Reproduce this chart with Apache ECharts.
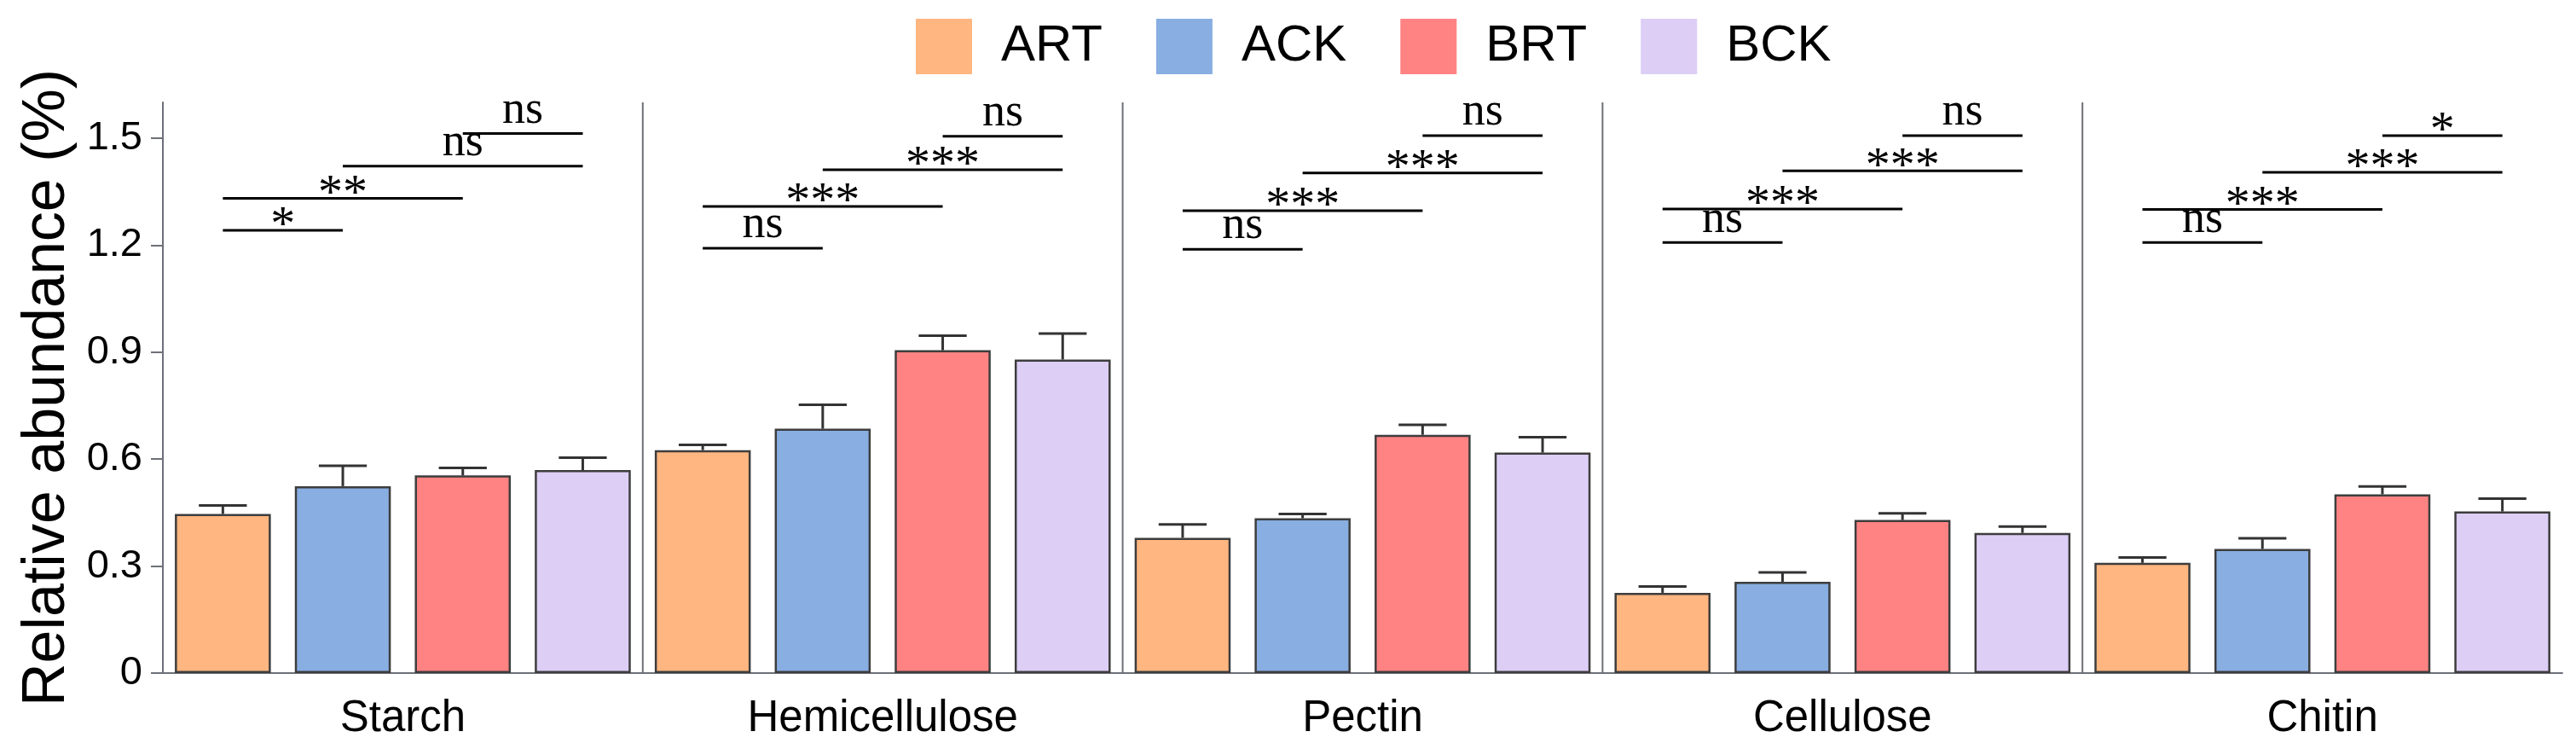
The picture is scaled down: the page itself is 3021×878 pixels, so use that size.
<!doctype html>
<html>
    <head>
        <meta charset="utf-8">
        <title>Relative abundance - bars</title>
        <style>
            html, body { margin: 0; padding: 0; background: #fff; }
            #main { width: 3021px; height: 878px; }
        </style>
    </head>
    <body>
        <div id="main"></div>
        <script src="https://cdn.jsdelivr.net/npm/echarts@6/dist/echarts.min.js"></script>
        <script>
            var categories = ['Starch', 'Hemicellulose', 'Pectin', 'Cellulose', 'Chitin'];
            var groups = ['ART', 'ACK', 'BRT', 'BCK'];
            var colors = ['#FFB680', '#88AEE2', '#FF8383', '#DDCEF6'];

            // bar means, one array per group (order follows categories)
            var ART = [0.446, 0.625, 0.379, 0.225, 0.309];
            var ACK = [0.524, 0.685, 0.434, 0.256, 0.348];
            var BRT = [0.554, 0.905, 0.668, 0.429, 0.501];
            var BCK = [0.569, 0.879, 0.618, 0.393, 0.453];

            // upper error bar lengths
            var ART_err = [0.024, 0.015, 0.038, 0.018, 0.015];
            var ACK_err = [0.057, 0.067, 0.012, 0.026, 0.030];
            var BRT_err = [0.021, 0.041, 0.028, 0.019, 0.022];
            var BCK_err = [0.035, 0.073, 0.043, 0.018, 0.036];

            // significance brackets: compared group pairs, heights and labels per category
            var sigPairs = [[0, 1], [0, 2], [1, 3], [2, 3]];
            var sigHeights = [
                [1.241, 1.331, 1.421, 1.513],
                [1.191, 1.308, 1.411, 1.505],
                [1.188, 1.296, 1.402, 1.507],
                [1.207, 1.301, 1.408, 1.507],
                [1.207, 1.300, 1.404, 1.507]
            ];
            var sigLabels = [
                ['*', '**', 'ns', 'ns'],
                ['ns', '***', '***', 'ns'],
                ['ns', '***', '***', 'ns'],
                ['ns', '***', '***', 'ns'],
                ['ns', '***', '***', '*']
            ];

            var yTicks = [0, 0.3, 0.6, 0.9, 1.2, 1.5];
            var yMax = 1.6;

            var means = [ART, ACK, BRT, BCK];
            var errs = [ART_err, ACK_err, BRT_err, BCK_err];
            var nG = groups.length;

            // one slot per bar on the inner axis
            var slots = [];
            categories.forEach(function (c) {
                groups.forEach(function (g) { slots.push(c + '-' + g); });
            });

            var barSeries = groups.map(function (g, gi) {
                var data = slots.map(function () { return '-'; });
                categories.forEach(function (c, ci) { data[ci * nG + gi] = means[gi][ci]; });
                return {
                    name: g,
                    type: 'bar',
                    xAxisIndex: 0,
                    barWidth: '80%',
                    barGap: '-100%',
                    itemStyle: { color: colors[gi], borderColor: '#3d3d3d', borderWidth: 2.5 },
                    data: data
                };
            });

            var errData = [];
            categories.forEach(function (c, ci) {
                groups.forEach(function (g, gi) {
                    errData.push([ci * nG + gi, means[gi][ci], means[gi][ci] + errs[gi][ci]]);
                });
            });

            var sigData = [];
            var sigText = [];
            categories.forEach(function (c, ci) {
                sigPairs.forEach(function (p, pi) {
                    sigData.push([ci * nG + p[0], ci * nG + p[1], sigHeights[ci][pi]]);
                    sigText.push(sigLabels[ci][pi]);
                });
            });

            var sepData = [];
            for (var k = 1; k < categories.length; k++) sepData.push([k * nG, 0]);

            var chart = echarts.init(document.getElementById('main'));

            chart.setOption({
                animation: false,
                legend: {
                    data: groups,
                    left: 1074,
                    top: 22,
                    padding: 0,
                    icon: 'rect',
                    itemWidth: 66,
                    itemHeight: 65,
                    itemGap: 63,
                    itemStyle: { borderWidth: 0 },
                    textStyle: {
                        fontSize: 60,
                        fontFamily: 'Liberation Sans',
                        color: '#000',
                        padding: [0, 0, 0, 29]
                    }
                },
                grid: { left: 191, right: 16, top: 120, bottom: 89 },
                xAxis: [{
                    type: 'category',
                    data: slots,
                    position: 'bottom',
                    axisLine: { lineStyle: { color: '#6e7079', width: 2 } },
                    axisTick: { alignWithLabel: true, interval: 0, length: 12, lineStyle: { width: 2 } },
                    axisLabel: { show: false },
                    splitLine: { show: false }
                }, {
                    type: 'category',
                    data: categories,
                    position: 'bottom',
                    axisLine: { show: false },
                    axisTick: { show: false },
                    axisLabel: {
                        fontSize: 51,
                        fontFamily: 'Liberation Sans',
                        color: '#000',
                        margin: 28
                    }
                }],
                yAxis: {
                    type: 'value',
                    min: 0,
                    max: yMax,
                    name: 'Relative abundance (%)',
                    nameLocation: 'middle',
                    nameGap: 100,
                    nameTextStyle: { fontSize: 70, fontFamily: 'Liberation Sans', color: '#000' },
                    axisLine: { show: true, lineStyle: { color: '#6e7079', width: 2 } },
                    axisTick: { show: true, length: 14, lineStyle: { width: 2 }, customValues: yTicks },
                    axisLabel: {
                        fontSize: 47,
                        fontFamily: 'Liberation Sans',
                        color: '#000',
                        margin: 24,
                        customValues: yTicks
                    },
                    splitLine: { show: false }
                },
                series: barSeries.concat([{
                    type: 'custom',
                    xAxisIndex: 0,
                    silent: true,
                    z: 1,
                    encode: { x: 0, y: 1 },
                    data: sepData,
                    renderItem: function (params, api) {
                        var x = api.coord([api.value(0), 0])[0] - api.size([1, 0])[0] / 2;
                        var y0 = api.coord([api.value(0), 0])[1];
                        var y1 = api.coord([api.value(0), yMax])[1];
                        return {
                            type: 'line',
                            shape: { x1: x, y1: y0, x2: x, y2: y1 },
                            style: { stroke: '#6e7079', lineWidth: 2 }
                        };
                    }
                }, {
                    type: 'custom',
                    xAxisIndex: 0,
                    silent: true,
                    z: 5,
                    encode: { x: 0, y: [1, 2] },
                    data: errData,
                    renderItem: function (params, api) {
                        var x = api.value(0);
                        var p0 = api.coord([x, api.value(1)]);
                        var p1 = api.coord([x, api.value(2)]);
                        var half = api.size([1, 0])[0] * 0.8 * 0.25;
                        var st = { stroke: '#333', lineWidth: 3 };
                        return {
                            type: 'group',
                            children: [
                                { type: 'line', shape: { x1: p0[0], y1: p0[1], x2: p1[0], y2: p1[1] }, style: st },
                                { type: 'line', shape: { x1: p1[0] - half, y1: p1[1], x2: p1[0] + half, y2: p1[1] }, style: st }
                            ]
                        };
                    }
                }, {
                    type: 'custom',
                    xAxisIndex: 0,
                    silent: true,
                    z: 6,
                    encode: { x: [0, 1], y: 2 },
                    data: sigData,
                    renderItem: function (params, api) {
                        var a = api.coord([api.value(0), api.value(2)]);
                        var b = api.coord([api.value(1), api.value(2)]);
                        var txt = sigText[params.dataIndex];
                        var isStar = txt.charAt(0) === '*';
                        var fs = isStar ? 58 : 54;
                        var ty = isStar ? a[1] - 4 : a[1] - 27;
                        return {
                            type: 'group',
                            children: [
                                { type: 'line', shape: { x1: a[0], y1: a[1], x2: b[0], y2: b[1] }, style: { stroke: '#000', lineWidth: 3 } },
                                {
                                    type: 'text',
                                    x: (a[0] + b[0]) / 2,
                                    y: ty,
                                    style: {
                                        text: txt,
                                        fontSize: fs,
                                        fontFamily: 'Liberation Serif',
                                        fill: '#000',
                                        align: 'center',
                                        verticalAlign: 'middle'
                                    }
                                }
                            ]
                        };
                    }
                }])
            });

            window.onresize = chart.resize;
        </script>
    </body>
</html>
